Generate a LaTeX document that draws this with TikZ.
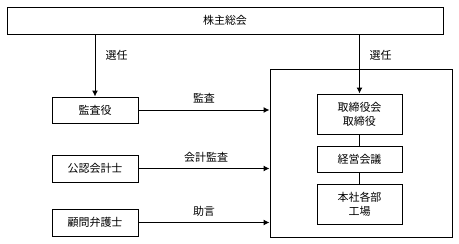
\documentclass[tikz,border=0pt]{standalone}
\usepackage{fontspec}
\newfontfamily\jpfont{Noto Sans CJK JP}
\usetikzlibrary{arrows.meta}
\begin{document}
\begin{tikzpicture}[x=1pt,y=-1pt,font=\jpfont\fontsize{11}{14}\selectfont,
  box/.style={draw,line width=1pt,inner sep=0pt,align=center},
  arr/.style={line width=1pt,-{Latex[length=6pt,width=6pt]}}]
\useasboundingbox (0,0) rectangle (459,244);
\node[box,minimum width=436pt,minimum height=27pt] (soukai) at (225,20.5) {株主総会};
\node[box,minimum width=182pt,minimum height=168pt] (keiei) at (361,153) {};
\node[box,minimum width=86pt,minimum height=26pt] (kansayaku) at (95,110) {監査役};
\node[box,minimum width=86pt,minimum height=27pt] (kaikeishi) at (95,168.5) {公認会計士};
\node[box,minimum width=86pt,minimum height=27pt] (bengoshi) at (95,222.5) {顧問弁護士};
\node[box,minimum width=85pt,minimum height=40pt] (torishimari) at (359.5,114) {取締役会\\ 取締役};
\node[box,minimum width=85pt,minimum height=26pt] (kaigi) at (359.5,159) {経営会議};
\node[box,minimum width=85pt,minimum height=40pt] (honsha) at (359.5,204) {本社各部\\工場};
\draw[arr] (kansayaku.north |- soukai.south) -- (kansayaku.north);
\node[anchor=west] at (102,55) {選任};
\draw[arr] (torishimari.north |- soukai.south) -- (torishimari.north);
\node[anchor=west] at (366,55) {選任};
\draw[arr] (kansayaku.east) -- (kansayaku.east -| keiei.west);
\node at (204,98) {監査};
\draw[arr] (kaikeishi.east) -- (kaikeishi.east -| keiei.west);
\node at (206,157) {会計監査};
\draw[arr] (bengoshi.east) -- (bengoshi.east -| keiei.west);
\node at (204,211) {助言};
\draw[line width=1pt] (torishimari) -- (kaigi);
\draw[line width=1pt] (kaigi) -- (honsha);
\end{tikzpicture}
\end{document}
